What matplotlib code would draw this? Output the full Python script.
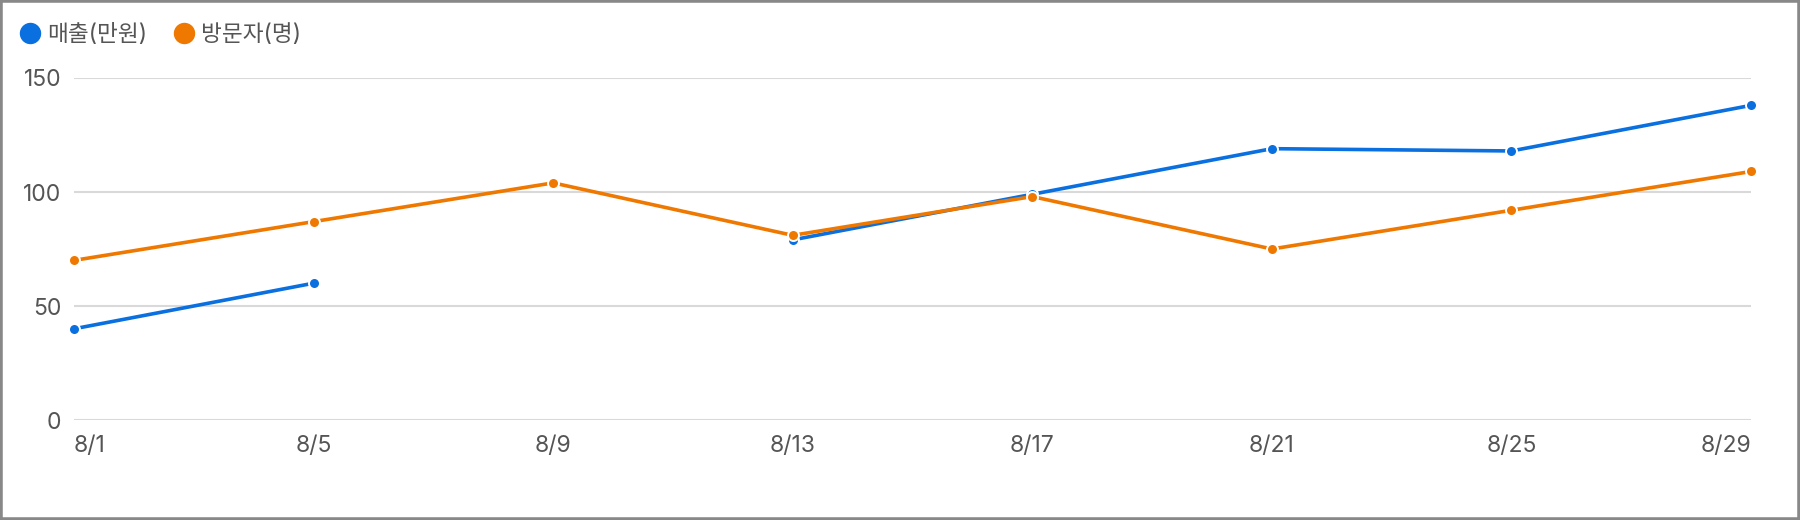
import numpy as np
import matplotlib.pyplot as plt
from matplotlib.lines import Line2D
from matplotlib.patches import Rectangle

plt.rcParams["font.family"] = ["Inter", "Noto Sans CJK KR", "DejaVu Sans"]

dates = ["8/1", "8/5", "8/9", "8/13", "8/17", "8/21", "8/25", "8/29"]
sales = [40, 60, np.nan, 79, 99, 119, 118, 138]
visitors = [70, 87, 104, 81, 98, 75, 92, 109]
series_names = ["매출(만원)", "방문자(명)"]
y_ticks = [0, 50, 100, 150]

BLUE = "#0a6fdf"
ORANGE = "#ef7800"
TEXT = "#555555"


def main():
    fig = plt.figure(figsize=(18, 5.2), dpi=100)
    ax = fig.add_axes([0.0411, 0.1923, 0.9317, 0.6577])

    x = np.arange(len(dates))
    for values, color in [(sales, BLUE), (visitors, ORANGE)]:
        ax.plot(x, values, color=color, lw=2.6, marker="o", markersize=7.9,
                markerfacecolor=color, markeredgecolor="white",
                markeredgewidth=1.4, clip_on=False, zorder=3)

    ax.set_xlim(0, len(dates) - 1)
    ax.set_ylim(0, 150)
    ax.set_yticks(y_ticks)
    ax.set_xticks(x)
    ax.set_xticklabels(dates)
    labels = ax.get_xticklabels()
    labels[0].set_ha("left")
    labels[-1].set_ha("right")

    ax.grid(axis="y", color="#d9d9d9", lw=1.5)
    ax.set_axisbelow(True)
    for side in ax.spines.values():
        side.set_visible(False)
    ax.tick_params(length=0, labelsize=16.5, labelcolor=TEXT)
    ax.tick_params(axis="x", pad=11)
    ax.tick_params(axis="y", pad=9)

    handles = [Line2D([], [], ls="none", marker="o", markersize=14.4,
                      color=c) for c in (BLUE, ORANGE)]
    leg = fig.legend(handles, series_names, loc="upper left",
                     bbox_to_anchor=(-0.0007, 0.993), frameon=False, ncol=2,
                     fontsize=16.3, handletextpad=0.25, columnspacing=1.1,
                     handlelength=1.0)
    for t in leg.get_texts():
        t.set_color(TEXT)

    fig.patches.append(Rectangle((0, 0), 1, 1, transform=fig.transFigure,
                                 fill=False, edgecolor="#888888", lw=4.0))

    fig.savefig("out.png", dpi=100, facecolor="white")
    plt.close(fig)


if __name__ == "__main__":
    main()
